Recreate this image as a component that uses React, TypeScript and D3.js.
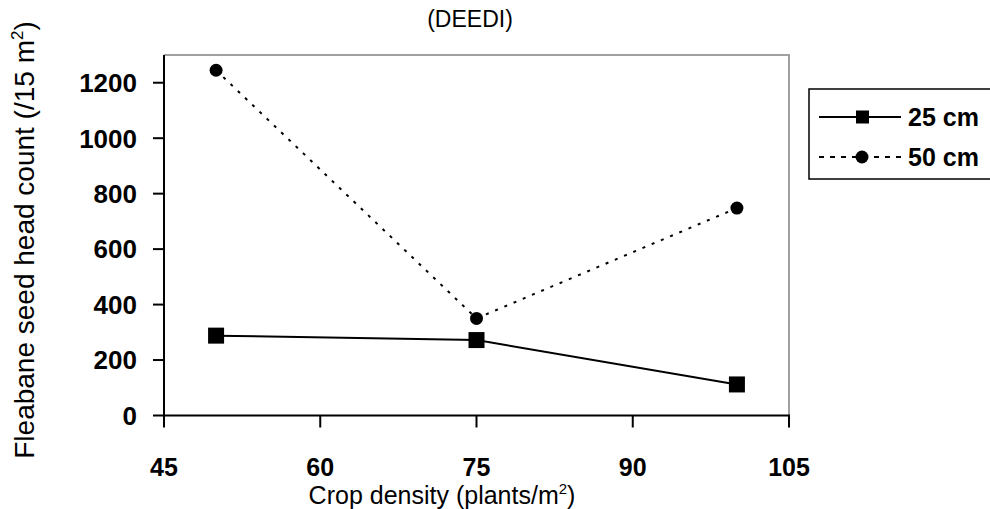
import React, { useEffect, useRef } from 'react';
import * as d3 from 'd3';

const densities = [50, 75, 100];
const row25 = [288, 272, 112];
const row50 = [1245, 350, 748];
const xTicks = [45, 60, 75, 90, 105];
const yTicks = [0, 200, 400, 600, 800, 1000, 1200];
const seriesNames = ['25 cm', '50 cm'];

const W = 990;
const H = 509;

export default function App() {
  const svgRef = useRef<SVGSVGElement>(null);

  useEffect(() => {
    document.body.style.margin = '0';
    if (!svgRef.current) return;
    const svg = d3.select(svgRef.current);
    svg.selectAll('*').remove();

    const font = 'Arial, "Liberation Sans", sans-serif';
    const left = 164, right = 789, top = 55, bottom = 415.5;

    const x = d3.scaleLinear().domain([45, 105]).range([left, right]);
    const y = d3.scaleLinear().domain([0, 1300]).range([bottom, top]);

    // plot frame: grey top/right, black axes
    svg.append('path')
      .attr('d', `M${left},${top}H${right}V${bottom}`)
      .attr('fill', 'none')
      .attr('stroke', '#a0a0a0')
      .attr('stroke-width', 2);

    const yAxis = svg.append('g').attr('transform', `translate(${left},0)`);
    yAxis.append('line')
      .attr('x1', 0).attr('x2', 0).attr('y1', top).attr('y2', bottom)
      .attr('stroke', '#000').attr('stroke-width', 2);
    yAxis.selectAll('line.tick').data(yTicks).join('line')
      .attr('class', 'tick')
      .attr('x1', -11).attr('x2', 0)
      .attr('y1', d => y(d)).attr('y2', d => y(d))
      .attr('stroke', '#000').attr('stroke-width', 2);
    yAxis.selectAll('text').data(yTicks).join('text')
      .attr('x', -27)
      .attr('y', d => y(d))
      .attr('dy', '0.36em')
      .attr('text-anchor', 'end')
      .attr('font-family', font)
      .attr('font-weight', 'bold')
      .attr('font-size', 26)
      .text(d => d);

    const xAxis = svg.append('g').attr('transform', `translate(0,${bottom})`);
    xAxis.append('line')
      .attr('x1', left - 1).attr('x2', right + 1).attr('y1', 0).attr('y2', 0)
      .attr('stroke', '#000').attr('stroke-width', 2);
    xAxis.selectAll('line.tick').data(xTicks).join('line')
      .attr('class', 'tick')
      .attr('x1', d => x(d)).attr('x2', d => x(d))
      .attr('y1', 0).attr('y2', 12)
      .attr('stroke', '#000').attr('stroke-width', 2);
    xAxis.selectAll('text').data(xTicks).join('text')
      .attr('x', d => x(d))
      .attr('y', 60)
      .attr('text-anchor', 'middle')
      .attr('font-family', font)
      .attr('font-weight', 'bold')
      .attr('font-size', 25)
      .text(d => d);

    // axis titles
    const xt = svg.append('text')
      .attr('x', 442).attr('y', 504)
      .attr('text-anchor', 'middle')
      .attr('font-family', font)
      .attr('font-size', 25);
    xt.append('tspan').text('Crop density (plants/m');
    xt.append('tspan').attr('dy', -10).attr('font-size', 15).text('2');
    xt.append('tspan').attr('dy', 10).text(')');

    const yt = svg.append('text')
      .attr('transform', `translate(34,240) rotate(-90)`)
      .attr('text-anchor', 'middle')
      .attr('font-family', font)
      .attr('font-size', 28);
    yt.append('tspan').text('Fleabane seed head count (/15 m');
    yt.append('tspan').attr('dy', -11).attr('font-size', 17).text('2');
    yt.append('tspan').attr('dy', 11).text(')');

    svg.append('text')
      .attr('x', 470).attr('y', 27)
      .attr('text-anchor', 'middle')
      .attr('font-family', font)
      .attr('font-size', 23)
      .text('(DEEDI)');

    // series
    const pts25 = densities.map((d, i) => [d, row25[i]] as [number, number]);
    const pts50 = densities.map((d, i) => [d, row50[i]] as [number, number]);
    const line = d3.line<[number, number]>().x(d => x(d[0])).y(d => y(d[1]));

    svg.append('path').datum(pts50)
      .attr('d', line)
      .attr('fill', 'none')
      .attr('stroke', '#000')
      .attr('stroke-width', 2)
      .attr('stroke-dasharray', '3,7');
    svg.append('path').datum(pts25)
      .attr('d', line)
      .attr('fill', 'none')
      .attr('stroke', '#000')
      .attr('stroke-width', 2);

    svg.selectAll('circle.s50').data(pts50).join('circle')
      .attr('class', 's50')
      .attr('cx', d => x(d[0])).attr('cy', d => y(d[1]))
      .attr('r', 6.5)
      .attr('fill', '#000');
    svg.selectAll('rect.s25').data(pts25).join('rect')
      .attr('class', 's25')
      .attr('x', d => x(d[0]) - 8).attr('y', d => y(d[1]) - 8)
      .attr('width', 16).attr('height', 16)
      .attr('fill', '#000');

    // legend
    const lg = svg.append('g');
    lg.append('rect')
      .attr('x', 809).attr('y', 89).attr('width', 200).attr('height', 90)
      .attr('fill', '#fff').attr('stroke', '#000').attr('stroke-width', 1.5);
    seriesNames.forEach((name, i) => {
      const ly = 117 + i * 40;
      lg.append('line')
        .attr('x1', 819).attr('x2', 901).attr('y1', ly).attr('y2', ly)
        .attr('stroke', '#000').attr('stroke-width', 2)
        .attr('stroke-dasharray', i === 0 ? null : '5,6');
      if (i === 0) {
        lg.append('rect').attr('x', 856).attr('y', ly - 6.5)
          .attr('width', 13).attr('height', 13).attr('fill', '#000');
      } else {
        lg.append('circle').attr('cx', 862).attr('cy', ly).attr('r', 6.5).attr('fill', '#000');
      }
      lg.append('text')
        .attr('x', 908).attr('y', ly)
        .attr('dy', '0.36em')
        .attr('font-family', font)
        .attr('font-weight', 'bold')
        .attr('font-size', 25)
        .text(name);
    });
  }, []);

  return (
    <div style={{ width: W, height: H, background: '#fff' }}>
      <svg ref={svgRef} width={W} height={H} style={{ display: 'block' }} />
    </div>
  );
}
